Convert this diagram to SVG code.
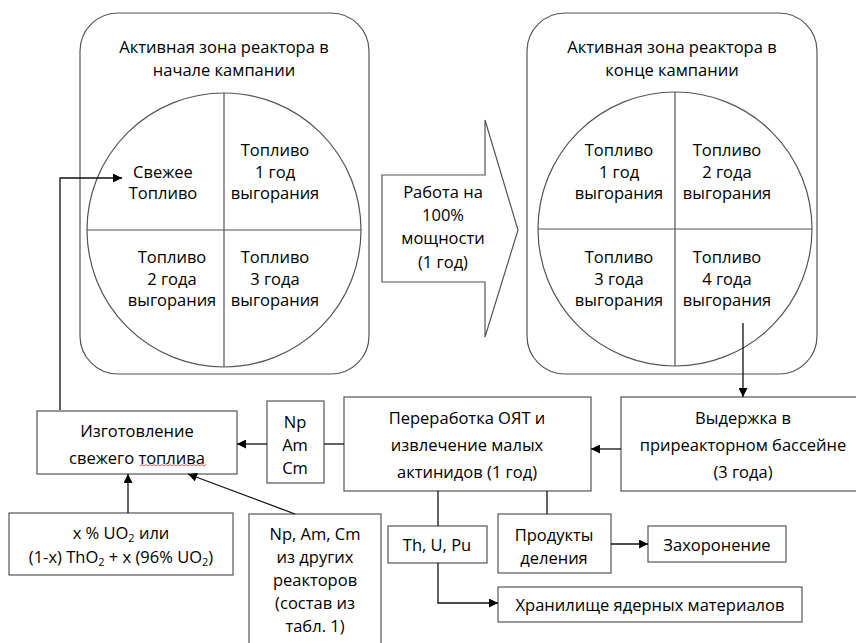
<svg xmlns="http://www.w3.org/2000/svg" width="856" height="643" viewBox="0 0 856 643">
<defs>
<marker id="ah" viewBox="0 0 10 10" refX="10" refY="5" markerWidth="10" markerHeight="9" markerUnits="userSpaceOnUse" orient="auto">
<path d="M0,0 L10,5 L0,10 Z" fill="#000"/>
</marker>
<style>
text{font-family:"Open Sans","Noto Sans","Liberation Sans",sans-serif;font-size:16.5px;fill:#000;text-anchor:middle}
.sh{fill:#fff;stroke:#555;stroke-width:1.2}
.ln{fill:none;stroke:#555;stroke-width:1.2}
.cn{fill:none;stroke:#111;stroke-width:1.3}
.ar{marker-end:url(#ah)}
.sub{font-size:11px}
</style>
</defs>
<rect width="856" height="643" fill="#fff"/>

<g id="core-start">
<rect class="sh" x="80" y="13" width="289" height="361" rx="38"/>
<circle class="sh" cx="224" cy="230" r="137"/>
<path class="ln" d="M224,93 V367 M87,230 H361"/>
<text x="224" y="53">Активная зона реактора в</text>
<text x="224" y="76">начале кампании</text>
<text x="163" y="178">Свежее</text>
<text x="163" y="199">Топливо</text>
<text x="275" y="156">Топливо</text>
<text x="275" y="178">1 год</text>
<text x="275" y="199">выгорания</text>
<text x="172" y="263">Топливо</text>
<text x="172" y="285">2 года</text>
<text x="172" y="306">выгорания</text>
<text x="275" y="263">Топливо</text>
<text x="275" y="285">3 года</text>
<text x="275" y="306">выгорания</text>
</g>

<g id="operation">
<polygon class="sh" points="382,175 485,175 485,120 518,230 485,337 485,282 382,282"/>
<text x="443" y="198">Работа на</text>
<text x="443" y="221">100%</text>
<text x="443" y="244">мощности</text>
<text x="443" y="268">(1 год)</text>
</g>

<g id="core-end">
<rect class="sh" x="527" y="13" width="290" height="361" rx="38"/>
<circle class="sh" cx="675" cy="229" r="137"/>
<path class="ln" d="M675,92 V366 M538,229 H812"/>
<text x="672" y="53">Активная зона реактора в</text>
<text x="672" y="76">конце кампании</text>
<text x="619" y="156">Топливо</text>
<text x="619" y="178">1 год</text>
<text x="619" y="199">выгорания</text>
<text x="727" y="156">Топливо</text>
<text x="727" y="178">2 года</text>
<text x="727" y="199">выгорания</text>
<text x="619" y="263">Топливо</text>
<text x="619" y="285">3 года</text>
<text x="619" y="306">выгорания</text>
<text x="727" y="263">Топливо</text>
<text x="727" y="285">4 года</text>
<text x="727" y="306">выгорания</text>
</g>

<g id="fabrication">
<rect class="sh" x="37" y="411" width="200" height="63"/>
<text x="137" y="437">Изготовление</text>
<text x="137" y="464">свежего топлива</text>
<path d="M140,466 l2,-1.5 l2,1.5 l2,-1.5 l2,1.5 l2,-1.5 l2,1.5 l2,-1.5 l2,1.5 l2,-1.5 l2,1.5 l2,-1.5 l2,1.5 l2,-1.5 l2,1.5 l2,-1.5 l2,1.5 l2,-1.5 l2,1.5 l2,-1.5 l2,1.5 l2,-1.5 l2,1.5 l2,-1.5 l2,1.5 l2,-1.5 l2,1.5 l2,-1.5 l2,1.5 l2,-1.5 l2,1.5 l2,-1.5 l2,1.5 l2,-1.5" fill="none" stroke="#e03030" stroke-width="0.8"/>
</g>

<g id="minor-actinides">
<rect class="sh" x="267" y="401" width="57" height="82"/>
<text x="295" y="428">Np</text>
<text x="295" y="451">Am</text>
<text x="295" y="474">Cm</text>
</g>

<g id="reprocessing">
<rect class="sh" x="344" y="397" width="247" height="94"/>
<text x="467" y="424">Переработка ОЯТ и</text>
<text x="467" y="451">извлечение малых</text>
<text x="467" y="478">актинидов (1 год)</text>
</g>

<g id="cooling">
<rect class="sh" x="621" y="397" width="240" height="94"/>
<text x="743" y="424">Выдержка в</text>
<text x="743" y="451">приреакторном бассейне</text>
<text x="743" y="478">(3 года)</text>
</g>

<g id="fuel-input">
<rect class="sh" x="9" y="513" width="224" height="62"/>
<text x="121" y="539">x % UO<tspan class="sub" dy="3">2</tspan><tspan dy="-3"> или</tspan></text>
<text x="121" y="563">(1-x) ThO<tspan class="sub" dy="3">2</tspan><tspan dy="-3"> + x (96% UO</tspan><tspan class="sub" dy="3">2</tspan><tspan dy="-3">)</tspan></text>
</g>

<g id="other-reactors">
<rect class="sh" x="249" y="514" width="132" height="140"/>
<text x="315" y="540">Np, Am, Cm</text>
<text x="315" y="563">из других</text>
<text x="315" y="586">реакторов</text>
<text x="315" y="609">(состав из</text>
<text x="315" y="632">табл. 1)</text>
</g>

<g id="th-u-pu">
<rect class="sh" x="388" y="526" width="99" height="37"/>
<text x="437" y="551">Th, U, Pu</text>
</g>

<g id="fission-products">
<rect class="sh" x="498" y="514" width="113" height="59"/>
<text x="554" y="541">Продукты</text>
<text x="554" y="564">деления</text>
</g>

<g id="disposal">
<rect class="sh" x="648" y="526" width="138" height="36"/>
<text x="717" y="551">Захоронение</text>
</g>

<g id="storage">
<rect class="sh" x="498" y="587" width="304" height="35"/>
<text x="650" y="611">Хранилище ядерных материалов</text>
</g>

<g id="connectors">
<path class="cn ar" d="M60,410 V178 H122"/>
<path class="cn ar" d="M743,323 V397"/>
<path class="cn ar" d="M621,449 H591"/>
<path class="cn ar" d="M267,444 H237"/>
<path class="cn" d="M324,444 H344"/>
<path class="cn ar" d="M128,513 V474"/>
<path class="cn ar" d="M295,514 L188,474"/>
<path class="cn" d="M438,491 V526 M547,491 V514"/>
<path class="cn ar" d="M438,563 V603 H498"/>
<path class="cn ar" d="M611,544 H648"/>
</g>
</svg>
